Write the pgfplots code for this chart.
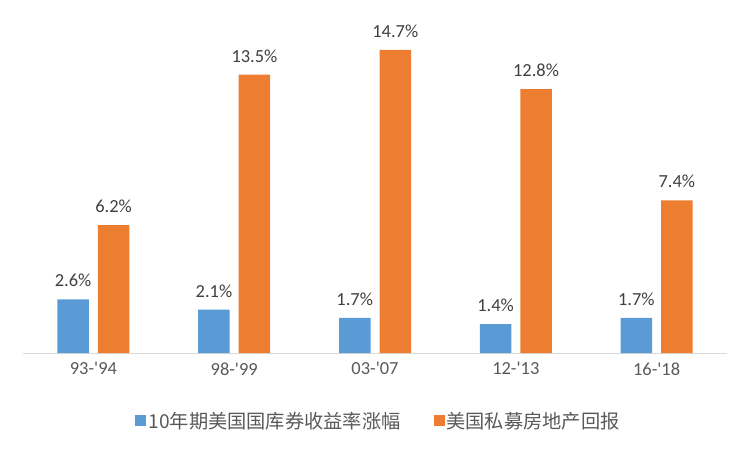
\documentclass[border=0pt]{standalone}
\usepackage{pgfplots}
\pgfplotsset{compat=1.18}
\usepackage{fontspec}
\setmainfont{Carlito}[Ligatures=TeXOff]
\newfontfamily\cjk{Noto Sans CJK SC}
\definecolor{cblue}{HTML}{5B9BD5}
\definecolor{corange}{HTML}{ED7D31}
\definecolor{txt}{HTML}{595959}
\definecolor{lbl}{HTML}{404040}
\definecolor{axl}{HTML}{D9D9D9}
\begin{document}
\begin{tikzpicture}
\useasboundingbox (-23bp,-97bp) rectangle (727bp,353bp);
\begin{axis}[
  at={(0,0)}, anchor=south west,
  scale only axis, width=704bp, height=329.8bp,
  ymin=0, ymax=16, xmin=-0.5, xmax=4.5,
  ybar=9bp, bar width=31.5bp,
  hide y axis,
  axis x line=bottom,
  x axis line style={draw=axl, line width=1bp, -},
  xtick={0,1,2,3,4},
  xticklabels={93-'94,98-'99,03-'07,12-'13,16-'18},
  major tick length=0pt,
  xticklabel style={font=\fontsize{18.5}{20}\selectfont, text=txt, yshift=-6bp},
  /pgf/number format/assume math mode=true,
  nodes near coords={\pgfmathprintnumber[fixed,precision=1,fixed zerofill,assume math mode=true]{\pgfplotspointmeta}\%},
  nodes near coords style={font=\fontsize{18.5}{20}\selectfont, text=lbl, yshift=9bp},
  legend style={at={(0.505,-0.206)}, anchor=center, draw=none, fill=none,
    legend columns=2, font=\cjk\fontsize{19.3}{20}\selectfont, text=txt,
    /tikz/every even column/.append style={column sep=31bp}},
  legend image code/.code={\fill[#1] (0bp,-5.5bp) rectangle (11bp,5.5bp);},
]
\addplot[draw=none, fill=cblue] coordinates {(0,2.6) (1,2.1) (2,1.7) (3,1.4) (4,1.7)};
\addplot[draw=none, fill=corange] coordinates {(0,6.2) (1,13.5) (2,14.7) (3,12.8) (4,7.4)};
\legend{10年期美国国库券收益率涨幅, 美国私募房地产回报}
\end{axis}
\end{tikzpicture}
\end{document}
